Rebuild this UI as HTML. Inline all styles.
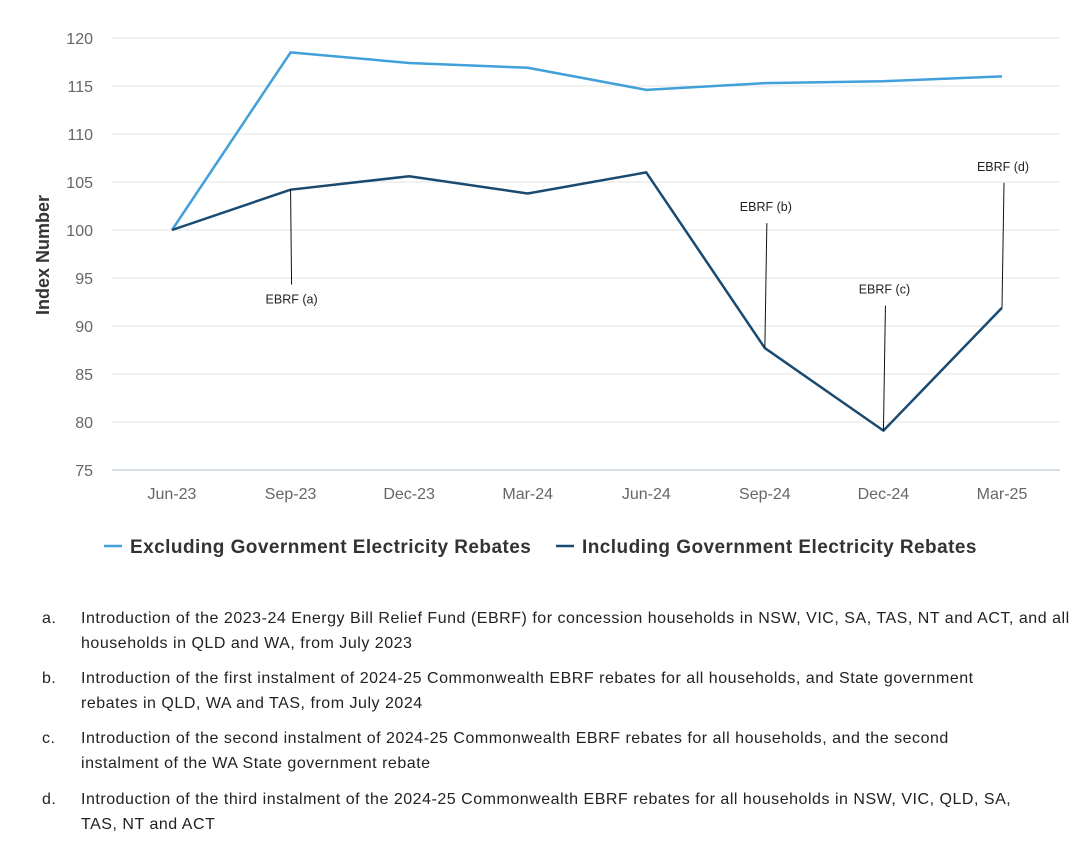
<!DOCTYPE html>
<html><head><meta charset="utf-8"><style>
body{margin:0;background:#fff;font-family:"Liberation Sans",sans-serif;}
svg text{font-family:"Liberation Sans",sans-serif;}
.fn{position:absolute;left:0;width:1082px;font-size:16px;color:#222;line-height:25px;letter-spacing:0.52px;}
.fn .l{position:absolute;left:42px;}
.fn .t{position:absolute;left:81px;width:1000px;white-space:nowrap;}
</style></head><body>
<div style="position:relative;width:1082px;height:842px;">
<svg id="chart" width="1082" height="580" style="position:absolute;left:0;top:0"></svg>
<div class="fn" style="top:606px"><span class="l">a.</span><span class="t">Introduction of the 2023-24 Energy Bill Relief Fund (EBRF) for concession households in NSW, VIC, SA, TAS, NT and ACT, and all<br>households in QLD and WA, from July 2023</span></div>
<div class="fn" style="top:666px"><span class="l">b.</span><span class="t">Introduction of the first instalment of 2024-25 Commonwealth EBRF rebates for all households, and State government<br>rebates in QLD, WA and TAS, from July 2024</span></div>
<div class="fn" style="top:726px"><span class="l">c.</span><span class="t">Introduction of the second instalment of 2024-25 Commonwealth EBRF rebates for all households, and the second<br>instalment of the WA State government rebate</span></div>
<div class="fn" style="top:787px"><span class="l">d.</span><span class="t">Introduction of the third instalment of the 2024-25 Commonwealth EBRF rebates for all households in NSW, VIC, QLD, SA,<br>TAS, NT and ACT</span></div>
</div>
<script>
const categories=["Jun-23","Sep-23","Dec-23","Mar-24","Jun-24","Sep-24","Dec-24","Mar-25"];
const excluding=[100,118.5,117.4,116.9,114.6,115.3,115.5,116.0];
const including=[100,104.2,105.6,103.8,106.0,87.7,79.1,91.9];
const yTicks=[75,80,85,90,95,100,105,110,115,120];
const annotations=[{i:1,label:"EBRF (a)",dir:1},{i:5,label:"EBRF (b)",dir:-1},{i:6,label:"EBRF (c)",dir:-1},{i:7,label:"EBRF (d)",dir:-1}];
const svg=document.getElementById('chart');
const NS='http://www.w3.org/2000/svg';
const x=i=>172+i*(1002-172)/(categories.length-1);
const y=v=>470-(v-75)*(470-38)/45;
function mk(t,a,p){const e=document.createElementNS(NS,t);for(const k in a)e.setAttribute(k,a[k]);(p||svg).appendChild(e);return e;}
yTicks.forEach(v=>{
  if(v>75){const g=mk('line',{x1:112,x2:1060,y1:y(v),y2:y(v),stroke:'#e3e3e3','stroke-width':1});
  
  }
  const t=mk('text',{x:93,y:y(v)+6,'text-anchor':'end','font-size':16,fill:'#666'});t.textContent=v;
  
  
});
const ax=mk('line',{x1:112,x2:1060,y1:470,y2:470,stroke:'#c8d3dc','stroke-width':1.5});


categories.forEach((c,i)=>{const t=mk('text',{x:x(i),y:499,'text-anchor':'middle','font-size':16,fill:'#666'});t.textContent=c;
  
  });
const yt=mk('text',{x:0,y:0,transform:'translate(49,255) rotate(-90)','text-anchor':'middle','font-size':18,fill:'#333','font-weight':'bold'});yt.textContent='Index Number';


function line(d,col,name){const p=mk('polyline',{points:d.map((v,i)=>x(i)+','+y(v)).join(' '),fill:'none',stroke:col,'stroke-width':2.5,'stroke-linejoin':'round'});
  
  }
line(excluding,'#419fd9','series-excluding-rebates');
line(including,'#1a4a70','series-including-rebates');
annotations.forEach(a=>{
  const px=x(a.i),py=y(including[a.i]);const ey=py+(a.dir>0?95:-125);
  const l=mk('line',{x1:px,y1:py,x2:px+(a.dir>0?1:2),y2:ey,stroke:'#111','stroke-width':1});
  
  
  const t=mk('text',{x:px+1,y:a.dir>0?ey+19:ey-12,'text-anchor':'middle','font-size':12.5,fill:'#222'});t.textContent=a.label;
  
  
});
const lg=[[104,'#419fd9','Excluding Government Electricity Rebates'],[556,'#1a4a70','Including Government Electricity Rebates']];
lg.forEach(([lx,c,txt],k)=>{
  const g=mk('g',{});
  
  
  mk('line',{x1:lx,x2:lx+18,y1:546,y2:546,stroke:c,'stroke-width':2.5},g);
  const t=mk('text',{x:lx+26,y:553,'font-size':19,fill:'#333','font-weight':'bold','letter-spacing':'0.45'},g);t.textContent=txt;
});
</script>
</body></html>
